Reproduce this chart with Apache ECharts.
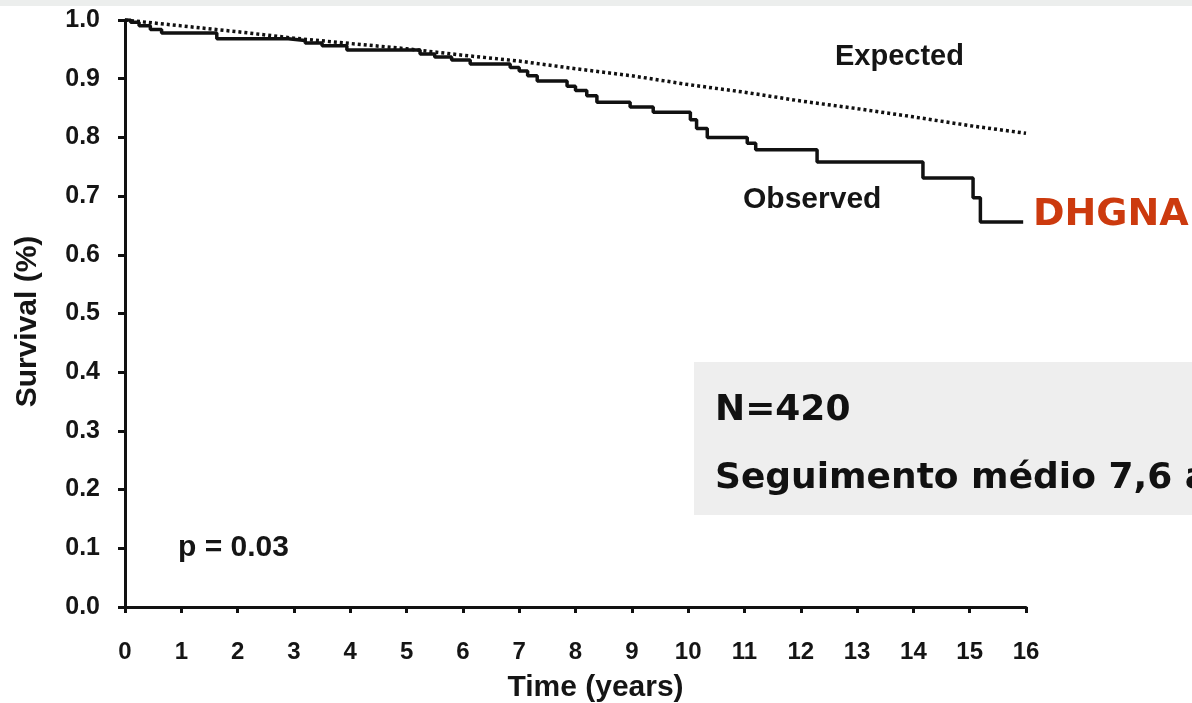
<!DOCTYPE html>
<html>
<head>
<meta charset="utf-8">
<script src="https://cdn.jsdelivr.net/npm/echarts@6/dist/echarts.min.js"></script>
<style>
html,body{margin:0;padding:0;background:#fff;}
#chart{width:1192px;height:703px;}
</style>
</head>
<body>
<div id="chart"></div>
<script>
// Observed (Kaplan-Meier) step curve
const observedTimes  = [0, 0.1, 0.25, 0.45, 0.65, 1.63, 2.9, 3.2, 3.5, 3.94, 5.24, 5.5, 5.8, 6.13, 6.84, 7.0, 7.15, 7.32, 7.85, 8.0, 8.2, 8.38, 8.97, 9.38, 10.04, 10.15, 10.34, 11.05, 11.2, 12.29, 14.17, 15.06, 15.19, 15.95];
const observedValues = [1.0, 0.996, 0.99, 0.984, 0.978, 0.968, 0.965, 0.961, 0.956, 0.949, 0.942, 0.937, 0.932, 0.925, 0.919, 0.913, 0.905, 0.896, 0.887, 0.88, 0.871, 0.86, 0.852, 0.843, 0.83, 0.815, 0.80, 0.79, 0.779, 0.758, 0.731, 0.697, 0.656, 0.656];
// Expected survival curve
const expectedTimes  = [0, 1, 2, 3, 4, 5, 6, 7, 8, 9, 10, 11, 12, 13, 14, 15, 16];
const expectedValues = [1.0, 0.99, 0.98, 0.969, 0.96, 0.951, 0.94, 0.93, 0.917, 0.905, 0.89, 0.877, 0.862, 0.849, 0.835, 0.82, 0.807];
// Axis ticks
const xTicks = [0, 16, 1];
const yTicks = [0, 1, 0.1];

const observed = observedTimes.map((t, i) => [t, observedValues[i]]);
const expected = expectedTimes.map((t, i) => [t, expectedValues[i]]);

const chart = echarts.init(document.getElementById('chart'));
const axisFont = {fontFamily: 'Liberation Sans', fontWeight: 'bold', color: '#151515'};

chart.setOption({
  backgroundColor: '#ffffff',
  animation: false,
  grid: {left: 125, right: 166, top: 20, bottom: 96, containLabel: false, outerBoundsMode: 'none'},
  xAxis: {
    type: 'value', min: xTicks[0], max: xTicks[1], interval: xTicks[2],
    name: 'Time (years)', nameLocation: 'middle', nameGap: 66,
    nameTextStyle: Object.assign({fontSize: 30, padding: [0, 0, 0, 40]}, axisFont),
    axisLine: {show: true, lineStyle: {color: '#111', width: 3}},
    axisTick: {show: true, length: 6, lineStyle: {color: '#111', width: 3}},
    axisLabel: Object.assign({fontSize: 24, margin: 33}, axisFont),
    splitLine: {show: false}
  },
  yAxis: {
    type: 'value', min: yTicks[0], max: yTicks[1], interval: yTicks[2],
    name: 'Survival (%)', nameLocation: 'middle', nameGap: 82, nameRotate: 90,
    nameTextStyle: Object.assign({fontSize: 30, padding: [0, 16, 0, 0]}, axisFont),
    axisLine: {show: true, lineStyle: {color: '#111', width: 3}},
    axisTick: {show: true, length: 7, lineStyle: {color: '#111', width: 3}},
    axisLabel: Object.assign({fontSize: 25, margin: 25, formatter: v => v.toFixed(1)}, axisFont),
    splitLine: {show: false}
  },
  series: [
    {
      name: 'Expected', type: 'line', data: expected, showSymbol: false, smooth: false,
      lineStyle: {color: '#111', width: 3.5, type: [3, 3], cap: 'butt'}, z: 2
    },
    {
      name: 'Observed', type: 'line', step: 'end', data: observed, showSymbol: false,
      lineStyle: {color: '#111', width: 3.5}, z: 3
    }
  ],
  graphic: [
    {type: 'rect', left: 0, top: 0, shape: {width: 1192, height: 6}, style: {fill: '#eceeed'}, silent: true},
    {type: 'text', left: 835, top: 42, style: {text: 'Expected', font: 'bold 29px "Liberation Sans"', fill: '#151515'}},
    {type: 'text', left: 743, top: 185, style: {text: 'Observed', font: 'bold 30px "Liberation Sans"', fill: '#151515'}},
    {type: 'text', left: 178, top: 533, style: {text: 'p = 0.03', font: 'bold 30px "Liberation Sans"', fill: '#151515'}},
    {type: 'text', left: 1033, top: 196, style: {text: 'DHGNA', font: 'bold 38px "DejaVu Sans"', fill: '#cc3a0e'}},
    {type: 'rect', left: 694, top: 362, shape: {width: 520, height: 153}, style: {fill: '#eeeeee'}, silent: true, z: -1},
    {type: 'text', left: 715, top: 393, style: {text: 'N=420', font: 'bold 36px "DejaVu Sans"', fill: '#111'}},
    {type: 'text', left: 715, top: 461, style: {text: 'Seguimento médio 7,6 anos', font: 'bold 36px "DejaVu Sans"', fill: '#111'}}
  ]
});
</script>
</body>
</html>
